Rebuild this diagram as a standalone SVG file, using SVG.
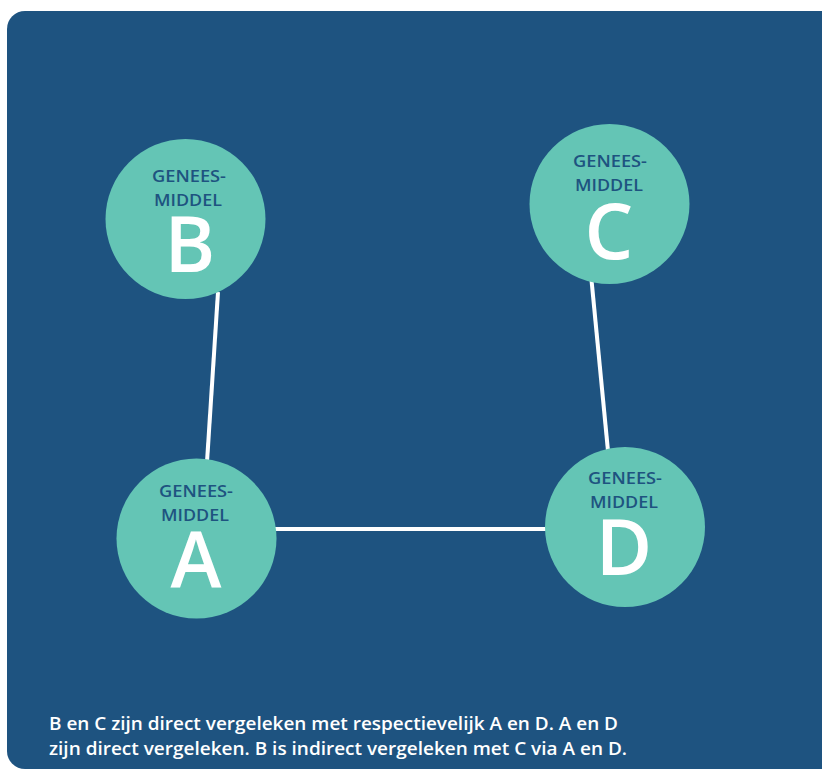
<svg xmlns="http://www.w3.org/2000/svg" width="822" height="771" viewBox="0 0 822 771">
  <style>
    .node circle { fill: #64c5b5; }
    .small { font-family: "Open Sans", "Liberation Sans", sans-serif; font-weight: 600; font-size: 16.5px; fill: #1e5380; text-anchor: middle; }
    .big { font-family: "Open Sans", "Liberation Sans", sans-serif; font-weight: 600; font-size: 77px; fill: #ffffff; text-anchor: middle; }
    .edge { stroke: #ffffff; stroke-width: 4; fill: none; }
    .caption { font-family: "Open Sans", "Liberation Sans", sans-serif; font-weight: 600; font-size: 17.5px; fill: #ffffff; }
  </style>
  <rect width="822" height="771" fill="#ffffff"/>
  <path d="M25 11 H822 V769 H25 A18 18 0 0 1 7 751 V29 A18 18 0 0 1 25 11 Z" fill="#1e5380"/>
  <g id="connectors">
    <line class="edge" x1="218" y1="292" x2="207" y2="462"/>
    <line class="edge" x1="591.5" y1="280" x2="608" y2="451"/>
    <line class="edge" x1="274" y1="529" x2="548" y2="529"/>
  </g>
  <g id="node-B" class="node">
    <circle cx="185.5" cy="219" r="80"/>
    <text class="small" x="189" y="182" textLength="74" lengthAdjust="spacingAndGlyphs">GENEES-</text>
    <text class="small" x="188" y="206" textLength="68" lengthAdjust="spacingAndGlyphs">MIDDEL</text>
    <text class="big" x="190" y="272">B</text>
  </g>
  <g id="node-C" class="node">
    <circle cx="609.5" cy="204" r="80"/>
    <text class="small" x="610" y="167" textLength="74" lengthAdjust="spacingAndGlyphs">GENEES-</text>
    <text class="small" x="609" y="191" textLength="68" lengthAdjust="spacingAndGlyphs">MIDDEL</text>
    <text class="big" x="609" y="259">C</text>
  </g>
  <g id="node-A" class="node">
    <circle cx="196.5" cy="538.5" r="80"/>
    <text class="small" x="196" y="497" textLength="74" lengthAdjust="spacingAndGlyphs">GENEES-</text>
    <text class="small" x="195" y="521" textLength="68" lengthAdjust="spacingAndGlyphs">MIDDEL</text>
    <text class="big" x="196" y="587">A</text>
  </g>
  <g id="node-D" class="node">
    <circle cx="625" cy="527" r="80"/>
    <text class="small" x="625" y="484" textLength="74" lengthAdjust="spacingAndGlyphs">GENEES-</text>
    <text class="small" x="624" y="508" textLength="68" lengthAdjust="spacingAndGlyphs">MIDDEL</text>
    <text class="big" x="624" y="575">D</text>
  </g>
  <g id="caption">
    <text class="caption" x="49" y="730" textLength="569" lengthAdjust="spacingAndGlyphs">B en C zijn direct vergeleken met respectievelijk A en D. A en D</text>
    <text class="caption" x="49" y="755" textLength="578" lengthAdjust="spacingAndGlyphs">zijn direct vergeleken. B is indirect vergeleken met C via A en D.</text>
  </g>
</svg>
